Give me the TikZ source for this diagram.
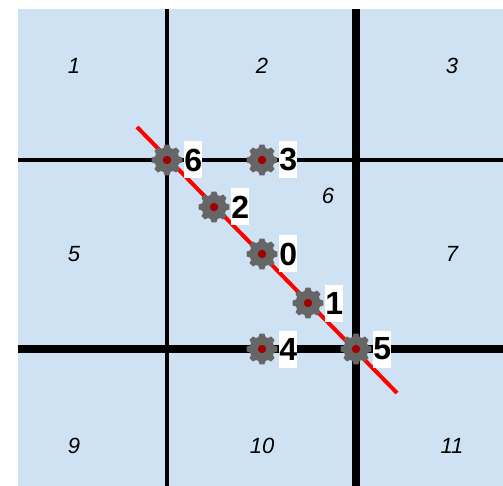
\documentclass[tikz,border=0pt]{standalone}
\usepackage{fontspec}
\setmainfont{Liberation Sans}
\usepackage{xcolor}
\usetikzlibrary{calc,positioning}
\definecolor{cellblue}{HTML}{CFE2F3}
\definecolor{geargray}{HTML}{666666}
\definecolor{dotred}{HTML}{A00000}
\tikzset{
  cellnum/.style={font=\fontsize{22}{22}\selectfont\itshape},
  gear/.style={circle,minimum size=25pt,inner sep=0pt,fill=geargray},
  tooth/.style={fill=geargray},
  gearnum/.style={fill=white,font=\fontsize{32}{32}\selectfont\bfseries,minimum height=37pt,minimum width=17.5pt,inner sep=0pt}
}
\begin{document}
\begin{tikzpicture}[x=1pt,y=-1pt]
  \useasboundingbox (0,0) rectangle (503,486);
  % background
  \fill[cellblue] (18,9) rectangle (503,486);
  % grid lines
  \draw[line width=4.5pt] (167,9) -- (167,486);
  \draw[line width=8pt] (356,9) -- (356,486);
  \draw[line width=4pt] (18,160) -- (503,160);
  \draw[line width=8pt] (18,349) -- (503,349);
  % cell numbers
  \foreach \cx/\cy/\cn in {74/66/1,262/66/2,452/66/3,74/254/5,328/196/6,452/254/7,74/446/9,262/446/10,452/446/11}
    \node[cellnum] (cell\cn) at (\cx,\cy) {\cn};
  % red line
  \coordinate (linestart) at (137,127);
  \coordinate (lineend) at (397,393);
  \draw[red,line width=4pt] (linestart) -- (lineend);
  % gears with numbers
  \foreach \gx/\gy/\gn in {262/254/0,308/303/1,214/207/2,262/160/3,262/349/4,356/349/5,167/160/6}{
    \node[gear] (gear\gn) at (\gx,\gy) {};
    \foreach \ga in {0,45,...,315}
      \fill[tooth] ($(gear\gn.center)+(\ga-22:11)$) -- ($(gear\gn.center)+(\ga-9:15.5)$) -- ($(gear\gn.center)+(\ga+9:15.5)$) -- ($(gear\gn.center)+(\ga+22:11)$) -- cycle;
    \fill[dotred] (gear\gn.center) circle (4.2pt);
    \node[gearnum,right=4.5pt of gear\gn] (num\gn) {\gn};
  }
\end{tikzpicture}
\end{document}
